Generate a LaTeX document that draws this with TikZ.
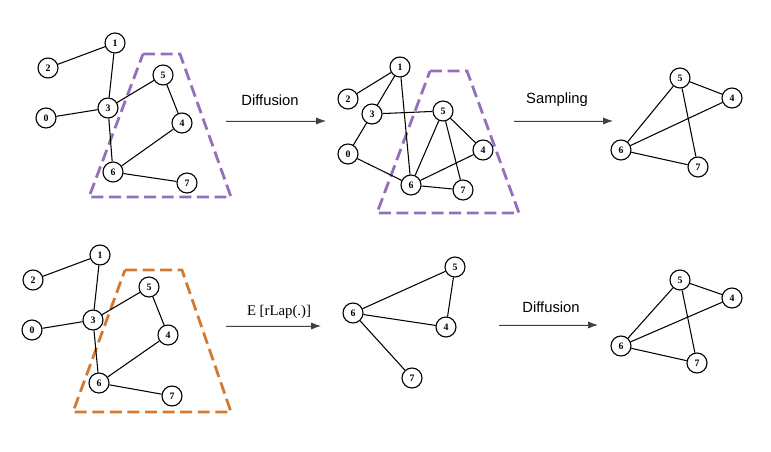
\documentclass[tikz,border=0pt]{standalone}
\usepackage{fontspec}
\setmainfont{Liberation Serif}
\setsansfont{Liberation Sans}
\usetikzlibrary{arrows.meta}
\definecolor{regionpurple}{RGB}{148,112,186}
\definecolor{regionorange}{RGB}{212,122,48}
\begin{document}
\begin{tikzpicture}[x=0.025cm,y=-0.025cm,
	vtx/.style={circle,draw,line width=0.8pt,fill=white,minimum size=0.5cm,inner sep=0pt,font=\fontsize{7}{7}\selectfont\bfseries},
	edge/.style={line width=0.75pt},
	region/.style={line width=2pt,dash pattern=on 8.5pt off 4pt},
	flow/.style={-{Latex[length=7pt,width=5pt]},line width=0.6pt,draw=black!75,fill=black!75},
	steplabel/.style={font=\sffamily\fontsize{10.5}{12}\selectfont}]
	\useasboundingbox (0,0) rectangle (771,452);

	% Regions
	\draw[region,draw=regionpurple] (143,54) -- (180,54) -- (231,197) -- (89,197) -- cycle;
	\draw[region,draw=regionpurple] (430,71) -- (467,71) -- (519,213) -- (377,213) -- cycle;
	\draw[region,draw=regionorange] (125,270) -- (182,270) -- (231,412) -- (73,412) -- cycle;

	% Graph A (input)
	\foreach \n/\x/\y in {1/115/43,2/48/68,5/163/75,3/108/108,0/46/118,4/182/123,6/113/172,7/187/183}
		\node[vtx] (A\n) at (\x,\y) {\n};
	\foreach \u/\v in {2/1,1/3,0/3,3/5,3/6,5/4,4/6,6/7}
		\draw[edge] (A\u) -- (A\v);

	% Graph B (after diffusion)
	\foreach \n/\x/\y in {1/400/67,2/348/99,3/372/114,5/443/111,0/348/154,4/483/150,6/411/185,7/463/190}
		\node[vtx] (B\n) at (\x,\y) {\n};
	\foreach \u/\v in {1/2,1/3,1/6,3/5,3/0,0/6,5/6,5/4,5/7,4/6,6/7}
		\draw[edge] (B\u) -- (B\v);

	% Graph C (sampled)
	\foreach \n/\x/\y in {5/680/78,4/732/98,6/621/150,7/698/167}
		\node[vtx] (C\n) at (\x,\y) {\n};
	\foreach \u/\v in {5/4,5/6,5/7,4/6,6/7}
		\draw[edge] (C\u) -- (C\v);

	% Graph D (input)
	\foreach \n/\x/\y in {1/100/255,2/33/280,5/149/287,3/93/320,0/32/330,4/168/335,6/99/383,7/172/396}
		\node[vtx] (D\n) at (\x,\y) {\n};
	\foreach \u/\v in {2/1,1/3,0/3,3/5,3/6,5/4,4/6,6/7}
		\draw[edge] (D\u) -- (D\v);

	% Graph E (expected)
	\foreach \n/\x/\y in {5/455/267,6/353/313,4/446/327,7/412/378}
		\node[vtx] (E\n) at (\x,\y) {\n};
	\foreach \u/\v in {6/5,5/4,6/4,6/7}
		\draw[edge] (E\u) -- (E\v);

	% Graph F (after diffusion)
	\foreach \n/\x/\y in {5/680/280,4/732/298,6/621/346,7/697/363}
		\node[vtx] (F\n) at (\x,\y) {\n};
	\foreach \u/\v in {5/4,5/6,5/7,4/6,6/7}
		\draw[edge] (F\u) -- (F\v);

	% Arrows
	\coordinate (diffA) at (226,121);
	\coordinate (diffB) at (326,121);
	\draw[flow] (diffA) -- (diffB);
	\node[steplabel] (diffusionTop) at (270,100) {Diffusion};

	\coordinate (sampA) at (514,121);
	\coordinate (sampB) at (613,121);
	\draw[flow] (sampA) -- (sampB);
	\node[steplabel] (sampling) at (557,100) {Sampling};

	\coordinate (expA) at (226,326);
	\coordinate (expB) at (321,326);
	\draw[flow] (expA) -- (expB);
	\node[font=\fontsize{10.5}{12}\selectfont] (expect) at (279,312) {E [rLap(.)]};

	\coordinate (diffC) at (499,325);
	\coordinate (diffD) at (598,325);
	\draw[flow] (diffC) -- (diffD);
	\node[steplabel] (diffusionBottom) at (551,307) {Diffusion};
\end{tikzpicture}
\end{document}
